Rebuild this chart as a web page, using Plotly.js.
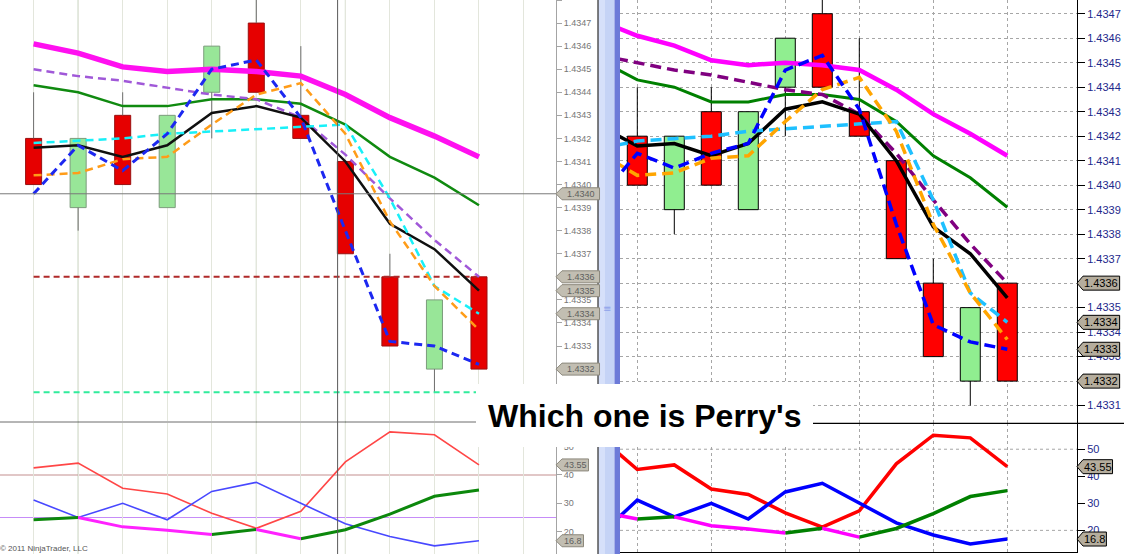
<!DOCTYPE html>
<html>
<head>
<meta charset="utf-8">
<script src="https://cdn.plot.ly/plotly-3.0.1.min.js"></script>
<style>
html,body{margin:0;padding:0;background:#ffffff;}
#chart{width:1124px;height:554px;}
</style>
</head>
<body>
<div id="chart"></div>
<script>
// ---------------- DATA ----------------
const bars   = [1, 2, 3, 4, 5, 6, 7, 8, 9, 10, 11];
const openP  = [1.4342, 1.4339, 1.4343, 1.4339, 1.4344, 1.4347, 1.4343, 1.4341, 1.4336, 1.4332, 1.4336];
const highP  = [1.4344, 1.4342, 1.4344, 1.4343, 1.4346, 1.4348, 1.4346, 1.4341, 1.4337, 1.4335, 1.4336];
const lowP   = [1.4340, 1.4338, 1.4340, 1.4339, 1.4342, 1.4344, 1.4342, 1.4337, 1.4333, 1.4331, 1.4332];
const closeP = [1.4340, 1.4342, 1.4340, 1.4343, 1.4346, 1.4344, 1.4342, 1.4337, 1.4333, 1.4335, 1.4332];

const magentaLine = [1.43461, 1.43457, 1.43451, 1.43449, 1.43450, 1.43449, 1.43447, 1.43439, 1.43429, 1.43421, 1.43412];
const purpleLine  = [1.43450, 1.43447, 1.43445, 1.43442, 1.43439, 1.43437, 1.43429, 1.43413, 1.43394, 1.43376, 1.43360];
const greenLine   = [1.43443, 1.43440, 1.43434, 1.43434, 1.43437, 1.43437, 1.43435, 1.43426, 1.43412, 1.43403, 1.43391];
const blackLine   = [1.43416, 1.43417, 1.43412, 1.43417, 1.43431, 1.43434, 1.43429, 1.43410, 1.43383, 1.43372, 1.43354];
const cyanLine    = [1.43418, 1.43419, 1.43420, 1.43422, 1.43423, 1.43424, 1.43425, 1.43426, 1.43394, 1.43356, 1.43344];
const orangeLine  = [1.43404, 1.43405, 1.43411, 1.43412, 1.43426, 1.43439, 1.43444, 1.43422, 1.43384, 1.43356, 1.43337];
const blueLineLeft  = [1.43396, 1.43417, 1.43406, 1.43422, 1.43450, 1.43454, 1.43429, 1.43380, 1.43332, 1.43330, 1.43322];
const blueLineRight = [1.43413, 1.43407, 1.43413, 1.43417, 1.43447, 1.43453, 1.43431, 1.43384, 1.43343, 1.43336, 1.43333];

// values of the bar before the first visible one (right chart only shows their tail)
const leadBar = 0;
const leadMagenta = 1.43467, leadPurple = 1.43453, leadGreen = 1.43451, leadBlack = 1.43424;
const leadCyan = 1.43415, leadOrange = 1.43413, leadBlue = 1.43395;

const levelRed   = 1.4336;
const levelGreen = 1.4331;
const crossPrice = 1.43396;

// axis tick labels
const leftPriceTicks  = [1.4332, 1.4333, 1.4334, 1.4335, 1.4336, 1.4337, 1.4338, 1.4339, 1.4340,
                         1.4341, 1.4342, 1.4343, 1.4344, 1.4345, 1.4346, 1.4347, 1.4348];
const rightPriceTicks = [1.4331, 1.4332, 1.4333, 1.4334, 1.4335, 1.4336, 1.4337, 1.4338, 1.4339,
                         1.4340, 1.4341, 1.4342, 1.4343, 1.4344, 1.4345, 1.4346, 1.4347];
const oscTicks = [20, 30, 40, 50];

// lower indicator panel
const redOsc   = [42.5, 44.2, 35.3, 33.3, 26.5, 21.2, 27.2, 44.6, 55.2, 54.2, 43.55];
const blueOsc  = [31.2, 25.0, 30.0, 24.2, 34.2, 37.4, 30.0, 22.8, 18.3, 15.0, 16.8];
const trendOsc = [24.2, 25.0, 21.7, 20.5, 19.0, 20.8, 17.5, 20.7, 26.2, 32.5, 34.7];
const leadRedOsc = 54.3, leadBlueOsc = 18.5, leadTrendOsc = 26.9;
const oscLevelHigh = 40, oscLevelLow = 25;
const oscGridLevels = [20, 50];

// ---------------- HELPERS ----------------
const W = 1124, H = 554;
const px = v => v / W;
const py = v => (H - v) / H;
const FONT = 'Liberation Sans, Arial, sans-serif';

const isUp = openP.map((o, i) => closeP[i] >= o);
const bodyTop = openP.map((o, i) => Math.max(o, closeP[i]));
const bodyBot = openP.map((o, i) => Math.min(o, closeP[i]));
const last = arr => arr[arr.length - 1];
const f4 = v => v.toFixed(4);

function wickTrace(a, b, xa, ya, color) {
  const x = [], y = [];
  bars.forEach((xi, i) => { if (a[i] !== b[i]) { x.push(xi, xi, null); y.push(a[i], b[i], null); } });
  return {type: 'scatter', mode: 'lines', x, y, xaxis: xa, yaxis: ya,
          line: {color, width: 1}, hoverinfo: 'skip', showlegend: false};
}
function bodyTrace(xa, ya, width, upFill, downFill, upLine, downLine) {
  return {type: 'bar', x: bars, base: openP, y: closeP.map((c, i) => c - openP[i]),
          width, xaxis: xa, yaxis: ya, hoverinfo: 'skip', showlegend: false,
          marker: {color: isUp.map(u => u ? upFill : downFill),
                   line: {color: isUp.map(u => u ? upLine : downLine), width: 1}}};
}
function lineTrace(xs, ys, xa, ya, color, width, dash) {
  return {type: 'scatter', mode: 'lines', x: xs, y: ys, xaxis: xa, yaxis: ya,
          line: {color, width, dash: dash || 'solid'}, hoverinfo: 'skip', showlegend: false,
          connectgaps: false};
}
function trendTraces(xs, vs, xa, ya, upColor, downColor, width) {
  const ux = [], uy = [], dx = [], dy = [];
  let prev = null;
  for (let i = 0; i < vs.length - 1; i++) {
    const up = vs[i + 1] >= vs[i];
    const tx = up ? ux : dx, ty = up ? uy : dy;
    if (prev === up) { tx.push(xs[i + 1]); ty.push(vs[i + 1]); }
    else {
      if (tx.length) { tx.push(null); ty.push(null); }
      tx.push(xs[i], xs[i + 1]); ty.push(vs[i], vs[i + 1]);
    }
    prev = up;
  }
  return [lineTrace(ux, uy, xa, ya, upColor, width), lineTrace(dx, dy, xa, ya, downColor, width)];
}
const withLead = (lead, arr) => [lead].concat(arr);
const rightX = withLead(leadBar, bars);
// tick labels hidden behind a value tag are left blank (the tag covers them)
function tickTexts(ticks, tagged) {
  return ticks.map(t => tagged.some(v => Math.abs(v - t) < 0.000025) ? '' : f4(t));
}

// ---------------- TRACES ----------------
const traces = [];
// Left price chart
traces.push(wickTrace(highP, bodyTop, 'x', 'y', '#6e6e6e'));
traces.push(wickTrace(bodyBot, lowP, 'x', 'y', '#6e6e6e'));
traces.push(bodyTrace('x', 'y', 0.36, '#98e698', '#e60000', '#7c9c7c', '#9a1010'));
traces.push(lineTrace([bars[0], last(bars)], [levelRed, levelRed], 'x', 'y', '#b02a2a', 2, '6px,4px'));
traces.push(lineTrace([bars[0], last(bars)], [levelGreen, levelGreen], 'x', 'y', '#30ec9c', 2, '6px,4px'));
traces.push(lineTrace(bars, magentaLine, 'x', 'y', '#ff10f0', 5.5));
traces.push(lineTrace(bars, greenLine, 'x', 'y', '#108a10', 2.5));
traces.push(lineTrace(bars, purpleLine, 'x', 'y', '#a058d8', 2.5, '8px,5px'));
traces.push(lineTrace(bars, blackLine, 'x', 'y', '#101010', 2.5));
traces.push(lineTrace(bars, cyanLine, 'x', 'y', '#18f0f8', 2.5, '8px,5px'));
traces.push(lineTrace(bars, orangeLine, 'x', 'y', '#ff9c18', 2.5, '8px,5px'));
traces.push(lineTrace(bars, blueLineLeft, 'x', 'y', '#1c28f0', 3, '8px,5px'));
// Left indicator
traces.push(lineTrace(bars, redOsc, 'x2', 'y2', '#ff4646', 1.6));
traces.push(lineTrace(bars, blueOsc, 'x2', 'y2', '#4848ff', 1.6));
traces.push(...trendTraces(bars, trendOsc, 'x2', 'y2', '#0c880c', '#ff22ff', 3));
// Right price chart
traces.push(wickTrace(highP, bodyTop, 'x3', 'y3', '#000000'));
traces.push(wickTrace(bodyBot, lowP, 'x3', 'y3', '#000000'));
traces.push(bodyTrace('x3', 'y3', 0.54, '#90ee90', '#ff0000', '#000000', '#000000'));
traces.push(lineTrace(rightX, withLead(leadMagenta, magentaLine), 'x3', 'y3', '#ff00ff', 4.5));
traces.push(lineTrace(rightX, withLead(leadGreen, greenLine), 'x3', 'y3', '#008000', 3));
traces.push(lineTrace(rightX, withLead(leadPurple, purpleLine), 'x3', 'y3', '#800080', 3.5, '11px,6px'));
traces.push(lineTrace(rightX, withLead(leadBlack, blackLine), 'x3', 'y3', '#000000', 3.5));
traces.push(lineTrace(rightX, withLead(leadCyan, cyanLine), 'x3', 'y3', '#1ec0ff', 3.5, '11px,6px'));
traces.push(lineTrace(rightX, withLead(leadOrange, orangeLine), 'x3', 'y3', '#ffa500', 3.5, '11px,6px'));
traces.push(lineTrace(rightX, withLead(leadBlue, blueLineRight), 'x3', 'y3', '#0000ff', 3.5, '11px,6px'));
// Right indicator
traces.push(lineTrace(rightX, withLead(leadRedOsc, redOsc), 'x4', 'y4', '#ff0000', 3.5));
traces.push(lineTrace(rightX, withLead(leadBlueOsc, blueOsc), 'x4', 'y4', '#0000ff', 3.5));
traces.push(...trendTraces(rightX, withLead(leadTrendOsc, trendOsc), 'x4', 'y4', '#008000', '#ff00ff', 3.5));

// ---------------- LAYOUT ----------------
const leftDom = [0, px(556)];
const rightDom = [px(620), px(1077)];
const leftX = [0.2456, 12.729];
const rightXR = [0.5324, 12.884];
const yLeftTop = [1.432975, 1.4348];
const yLeftBot = [12.13, 58.34];
const yRightTop = [1.433029, 1.434756];
const yRightBot = [12.0, 59.7];

const leftTagged  = [last(purpleLine), last(closeP)];
const rightTagged = [last(purpleLine), last(closeP)];

const baseX = {showticklabels: false, ticks: '', zeroline: false, showline: false, fixedrange: true};
const layout = {
  width: W, height: H,
  margin: {l: 0, r: 0, t: 0, b: 0, pad: 0},
  paper_bgcolor: '#ffffff', plot_bgcolor: '#ffffff',
  showlegend: false, barmode: 'overlay', hovermode: false,
  font: {family: FONT},
  xaxis:  Object.assign({}, baseX, {domain: leftDom, anchor: 'y', range: leftX, showgrid: true, gridcolor: '#e3e6dc', dtick: 1, tick0: 1}),
  xaxis2: Object.assign({}, baseX, {domain: leftDom, anchor: 'y2', range: leftX, showgrid: true, gridcolor: '#e3e6dc', dtick: 1, tick0: 1}),
  xaxis3: Object.assign({}, baseX, {domain: rightDom, anchor: 'y3', range: rightXR, showgrid: true, gridcolor: '#a6a6a6', griddash: 'dot', dtick: 2, tick0: 1}),
  xaxis4: Object.assign({}, baseX, {domain: rightDom, anchor: 'y4', range: rightXR, showgrid: true, gridcolor: '#a6a6a6', griddash: 'dot', dtick: 2, tick0: 1,
                                    showline: true, linecolor: '#000000', linewidth: 1}),
  yaxis:  {domain: [py(421), 1], anchor: 'x', side: 'right', range: yLeftTop,
           tickvals: leftPriceTicks, ticktext: tickTexts(leftPriceTicks, leftTagged),
           showline: true, linecolor: '#a4a4a4', ticks: 'outside', ticklen: 5, tickcolor: '#a4a4a4', showgrid: false, zeroline: false,
           tickfont: {family: FONT, size: 9, color: '#767676'}, fixedrange: true},
  yaxis2: {domain: [0, py(423)], anchor: 'x2', side: 'right', range: yLeftBot, tickvals: oscTicks,
           showline: true, linecolor: '#a4a4a4', ticks: 'outside', ticklen: 5, tickcolor: '#a4a4a4', showgrid: false, zeroline: false,
           tickfont: {family: FONT, size: 9, color: '#767676'}, fixedrange: true},
  yaxis3: {domain: [py(423), 1], anchor: 'x3', side: 'right', range: yRightTop,
           tickvals: rightPriceTicks, ticktext: tickTexts(rightPriceTicks, rightTagged),
           showline: true, linecolor: '#000000', ticks: 'outside', ticklen: 7, tickcolor: '#000000',
           showgrid: true, gridcolor: '#a6a6a6', griddash: 'dot', zeroline: false,
           tickfont: {family: FONT, size: 11, color: '#1e2a8c'}, fixedrange: true},
  yaxis4: {domain: [py(552), py(423)], anchor: 'x4', side: 'right', range: yRightBot, tickvals: oscTicks,
           showline: true, linecolor: '#000000', ticks: 'outside', ticklen: 7, tickcolor: '#000000', showgrid: false, zeroline: false,
           tickfont: {family: FONT, size: 11, color: '#1e2a8c'}, fixedrange: true},
  shapes: [], annotations: []
};

const S = layout.shapes, A = layout.annotations;
// session lines in left chart
[2, 6, 8].forEach(b => S.push({type: 'line', xref: 'x', yref: 'paper', x0: b, x1: b, y0: 0, y1: 1, line: {color: '#b6c9ae', width: 1}, layer: 'below'}));
// oscillator reference levels (left)
S.push({type: 'line', xref: 'paper', yref: 'y2', x0: 0, x1: px(556), y0: oscLevelHigh, y1: oscLevelHigh, line: {color: '#c49090', width: 1.2}, layer: 'below'});
S.push({type: 'line', xref: 'paper', yref: 'y2', x0: 0, x1: px(556), y0: oscLevelLow, y1: oscLevelLow, line: {color: '#c68cf8', width: 1.2}, layer: 'below'});
// oscillator grid (right)
oscGridLevels.forEach(l => S.push({type: 'line', xref: 'paper', yref: 'y4', x0: px(620), x1: px(1077), y0: l, y1: l, line: {color: '#a6a6a6', width: 1, dash: 'dot'}, layer: 'below'}));
// panel separators
S.push({type: 'line', xref: 'paper', yref: 'paper', x0: 0, x1: px(556), y0: py(422), y1: py(422), line: {color: '#6c6c6c', width: 1}});
S.push({type: 'line', xref: 'paper', yref: 'paper', x0: px(620), x1: 1, y0: py(423.3), y1: py(423.3), line: {color: '#000000', width: 1.2}});
// crosshair (left)
S.push({type: 'line', xref: 'paper', yref: 'paper', x0: px(337.6), x1: px(337.6), y0: 0, y1: 1, line: {color: '#5a5a5a', width: 1}});
S.push({type: 'line', xref: 'paper', yref: 'y', x0: 0, x1: px(556), y0: crossPrice, y1: crossPrice, line: {color: '#7a7a7a', width: 1}});
// scrollbar
S.push({type: 'rect', xref: 'paper', yref: 'paper', x0: px(598.5), x1: px(614.5), y0: 0, y1: 1, fillcolor: '#c5d3f6', line: {width: 0}});
S.push({type: 'rect', xref: 'paper', yref: 'paper', x0: px(599), x1: px(605), y0: 0, y1: 1, fillcolor: '#d6e0fa', line: {width: 0}});
S.push({type: 'rect', xref: 'paper', yref: 'paper', x0: px(614.5), x1: px(620), y0: 0, y1: 1, fillcolor: '#6c7ad8', line: {width: 0}});
S.push({type: 'line', xref: 'paper', yref: 'paper', x0: px(598), x1: px(598), y0: 0, y1: 1, line: {color: '#000000', width: 1}});

// price tags
const charW = ch => (ch === '.' ? 0.278 : 0.556);
const textW = (s, size) => s.split('').reduce((a, c) => a + charW(c), 0) * size;
function tag(anchorPx, yref, val, txt, size, fill, border, color, extra, halfH) {
  const w = 6 + textW(txt, size) + extra;
  S.push({type: 'path', xref: 'paper', xsizemode: 'pixel', xanchor: px(anchorPx), yref, ysizemode: 'pixel', yanchor: val,
          path: `M0,0 L6,${halfH} L${w},${halfH} L${w},${-halfH} L6,${-halfH} Z`,
          fillcolor: fill, line: {color: border, width: 1}, layer: 'above'});
  A.push({xref: 'paper', yref, x: px(anchorPx + (6 + w) / 2), y: val, xanchor: 'center', yanchor: 'middle',
          text: txt, showarrow: false, font: {family: FONT, size, color}});
}
// left tags
const LT = ['#c2beb2', '#8c887c', '#5e5e5e'];
tag(556, 'y', crossPrice, f4(crossPrice), 9, ...LT, 10, 6);
tag(556, 'y', last(blackLine), f4(last(blackLine)), 9, ...LT, 10, 6);
tag(556, 'y', last(purpleLine), f4(last(purpleLine)), 9, ...LT, 10, 6);
tag(556, 'y', last(cyanLine), f4(last(cyanLine)), 9, ...LT, 10, 6);
tag(556, 'y', last(closeP), f4(last(closeP)), 9, ...LT, 10, 6);
tag(556, 'y2', last(redOsc), String(last(redOsc)), 9, ...LT, 4, 6);
tag(556, 'y2', last(blueOsc), String(last(blueOsc)), 9, ...LT, 4, 6);
// right tags
const RT = ['#b5ad9d', '#000000', '#000000'];
tag(1077, 'y3', last(purpleLine), f4(last(purpleLine)), 11, ...RT, 3, 7);
tag(1077, 'y3', last(cyanLine), f4(last(cyanLine)), 11, ...RT, 3, 7);
tag(1077, 'y3', last(blueLineRight), f4(last(blueLineRight)), 11, ...RT, 3, 7);
tag(1077, 'y3', last(closeP), f4(last(closeP)), 11, ...RT, 3, 7);
tag(1077, 'y4', last(redOsc), String(last(redOsc)), 11, ...RT, 2, 7);
tag(1077, 'y4', last(blueOsc), String(last(blueOsc)), 11, ...RT, 2, 7);

// white title box
S.push({type: 'rect', xref: 'paper', yref: 'paper', x0: px(476), x1: px(813), y0: py(447), y1: py(384), fillcolor: '#ffffff', line: {width: 0}, layer: 'above'});
A.push({xref: 'paper', yref: 'paper', x: px(644), y: py(416), xanchor: 'center', yanchor: 'middle', showarrow: false,
        text: "<b>Which one is Perry's</b>", font: {family: FONT, size: 32, color: '#000000'}});
A.push({xref: 'paper', yref: 'paper', x: px(-2), y: py(548), xanchor: 'left', yanchor: 'middle', showarrow: false,
        text: '© 2011 NinjaTrader, LLC', font: {family: FONT, size: 8, color: '#555555'}});
A.push({xref: 'paper', yref: 'paper', x: px(607), y: py(308), xanchor: 'center', yanchor: 'middle', showarrow: false,
        text: '≡', font: {family: 'DejaVu Sans', size: 10, color: '#8ea2ea'}});

Plotly.newPlot('chart', traces, layout, {staticPlot: true, displayModeBar: false});
</script>
</body>
</html>
